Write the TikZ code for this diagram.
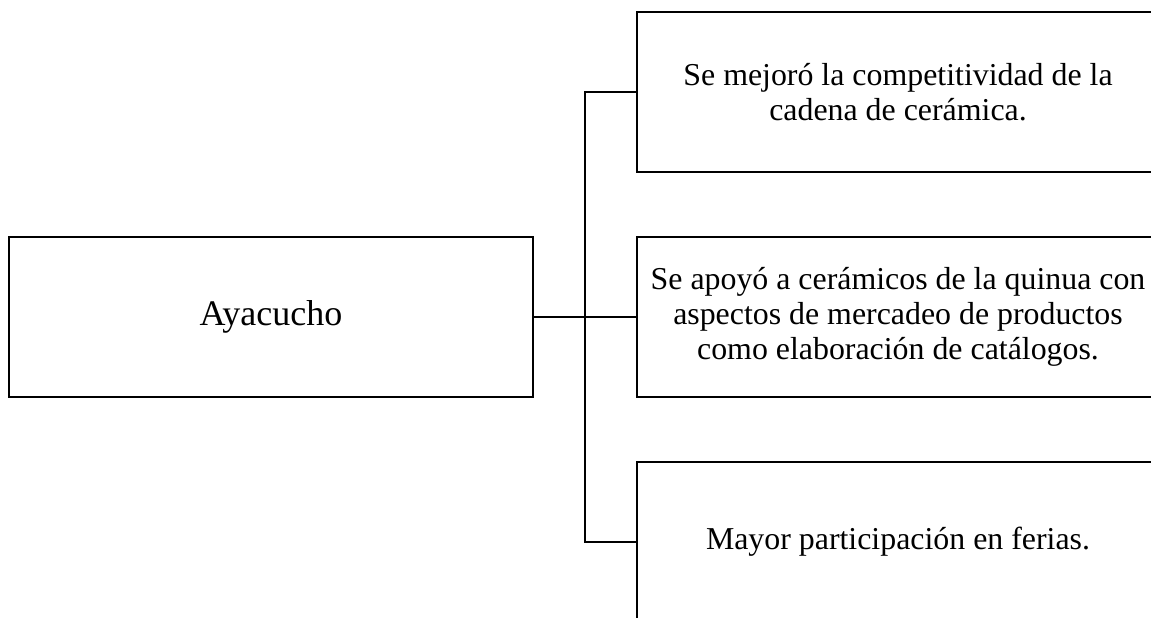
\documentclass[tikz,border=0pt]{standalone}
\usepackage{fontspec}
\setmainfont{Liberation Serif}
\usepackage{tikz}

\begin{document}
\begin{tikzpicture}[x=0.75pt,y=0.75pt,yscale=-1,xscale=1,
  box/.style={draw,line width=1.1pt,minimum height=120pt,inner sep=0.75pt,align=center},
  leftbox/.style={box,minimum width=393pt,font=\fontsize{27}{31}\selectfont},
  rightbox/.style={box,minimum width=391.5pt,font=\fontsize{23.9}{26}\selectfont}]
%set diagram frame at 1151 x 617
\useasboundingbox (0,0) rectangle (1151,617);

% Left Box
\node [leftbox] (ayacucho) at (271,317) {Ayacucho};
% Right Boxes
\node [rightbox] (comp) at (898,92) {Se mejoró la competitividad de la\\cadena de cerámica.};
\node [rightbox] (merc) at (898,317) {Se apoyó a cerámicos de la quinua con\\aspectos de mercadeo de productos\\como elaboración de catálogos.};
\node [rightbox] (ferias) at (898,542) {Mayor participación en ferias.};

%Connectors
\coordinate (split) at (585,317);
\draw [line width=1.1pt] (ayacucho.east) -- (merc.west);
\draw [line width=1.1pt] (comp.west) -| (split) |- (ferias.west);

\end{tikzpicture}
\end{document}
